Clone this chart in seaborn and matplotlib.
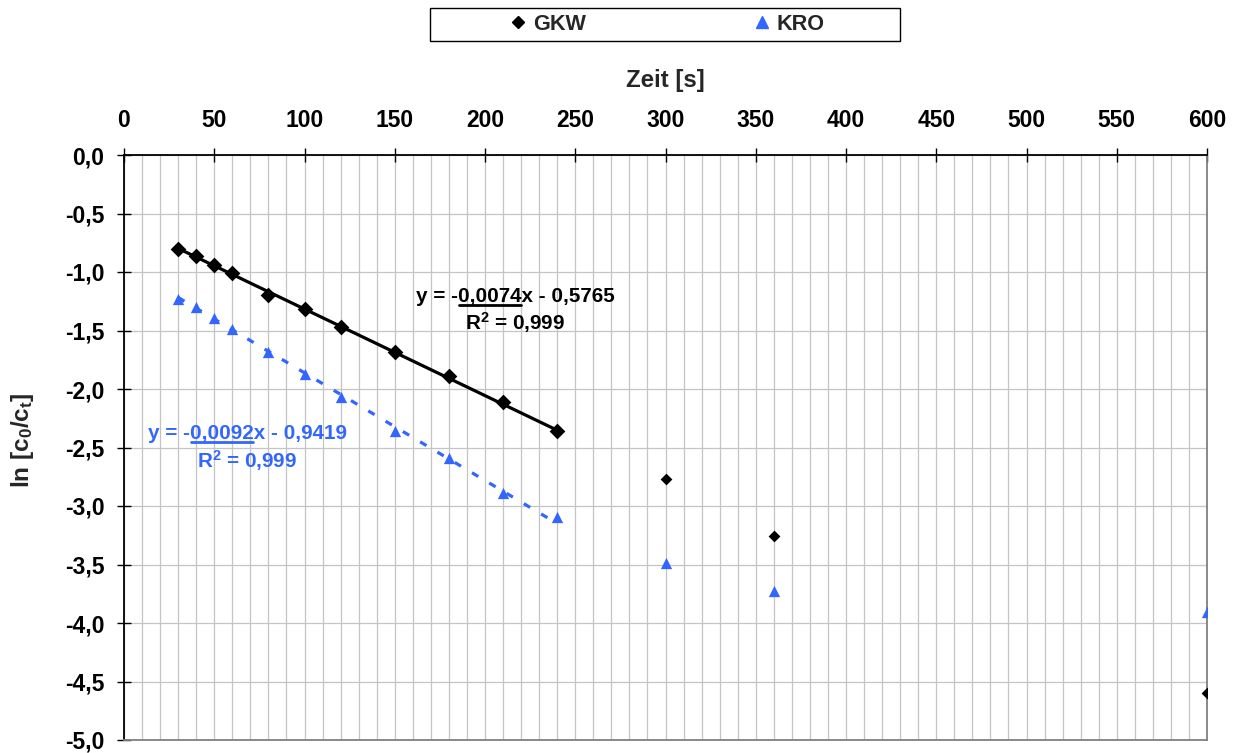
import numpy as np
import pandas as pd
import matplotlib
matplotlib.use("Agg")
import matplotlib.pyplot as plt
import seaborn as sns
from matplotlib.patches import Rectangle
from matplotlib.lines import Line2D
from matplotlib.ticker import FuncFormatter, MultipleLocator

# ---------------- data ----------------
time_s = [30, 40, 50, 60, 80, 100, 120, 150, 180, 210, 240, 300, 360, 600]
gkw = [-0.80, -0.86, -0.94, -1.01, -1.20, -1.32, -1.47, -1.68, -1.89, -2.11, -2.36, -2.77, -3.26, -4.60]
kro = [-1.23, -1.30, -1.39, -1.49, -1.68, -1.87, -2.07, -2.36, -2.59, -2.89, -3.09, -3.49, -3.73, -3.91]
series_names = ["GKW", "KRO"]
fit_start, fit_end = 30, 240
gkw_slope, gkw_intercept = -0.0074, -0.5765
kro_slope, kro_intercept = -0.0092, -0.9419
x_ticks = list(range(0, 601, 50))
y_ticks = [0.0, -0.5, -1.0, -1.5, -2.0, -2.5, -3.0, -3.5, -4.0, -4.5, -5.0]

BLUE = "#3366FF"
W, H = 1235, 753

sns.set_style("white")
plt.rcParams["font.family"] = ["Liberation Sans", "DejaVu Sans"]
plt.rcParams["font.weight"] = "bold"
plt.rcParams["mathtext.fontset"] = "custom"
plt.rcParams["mathtext.rm"] = "Liberation Sans:bold"
plt.rcParams["mathtext.bf"] = "Liberation Sans:bold"
plt.rcParams["mathtext.it"] = "Liberation Sans:bold"
plt.rcParams["mathtext.default"] = "bf"

df = pd.DataFrame({
    "Zeit": time_s * 2,
    "lnc": gkw + kro,
    "Serie": [series_names[0]] * len(time_s) + [series_names[1]] * len(time_s),
})
df["fit"] = (df["Zeit"] >= fit_start) & (df["Zeit"] <= fit_end)

fig = plt.figure(figsize=(W / 100, H / 100), dpi=100)
ax = fig.add_axes([124 / W, 13 / H, 1083 / W, 585 / H])

# trend lines
xf = np.array([fit_start, fit_end], dtype=float)
sns.lineplot(x=xf, y=gkw_slope * xf + gkw_intercept, color="black", lw=2.3, ax=ax, zorder=2)
sns.lineplot(x=xf, y=kro_slope * xf + kro_intercept, color=BLUE, lw=2.3, ax=ax, zorder=2)
ax.lines[-1].set_linestyle((0, (2.3, 4.0)))
ax.lines[-1].set_dash_capstyle("butt")

# markers
g = df[df["Serie"] == "GKW"]
k = df[df["Serie"] == "KRO"]
sns.scatterplot(data=g[g["fit"]], x="Zeit", y="lnc", marker="D", s=64, color="black",
                edgecolor="black", linewidth=0, ax=ax, zorder=3, legend=False)
sns.scatterplot(data=g[~g["fit"]], x="Zeit", y="lnc", marker="D", s=36, color="black",
                edgecolor="black", linewidth=0, ax=ax, zorder=3, legend=False)
sns.scatterplot(data=k, x="Zeit", y="lnc", marker="^", s=66, color=BLUE,
                edgecolor=BLUE, linewidth=0, ax=ax, zorder=3, legend=False)

# axes
ax.set_xlim(0, 600)
ax.set_ylim(-5, 0)
ax.xaxis.tick_top()
ax.xaxis.set_label_position("top")
ax.set_xticks(x_ticks)
ax.xaxis.set_minor_locator(MultipleLocator(10))
ax.set_yticks(y_ticks)
ax.yaxis.set_major_formatter(FuncFormatter(lambda v, p: f"{v:.1f}".replace(".", ",")))
ax.tick_params(axis="x", which="major", direction="inout", length=10, width=1, pad=11.5, labelsize=16.5, colors="black")
ax.tick_params(axis="x", which="minor", length=0)
ax.tick_params(axis="y", which="major", direction="inout", length=10, width=1, pad=9, labelsize=16.5, colors="black", left=True)
for lab in ax.get_xticklabels() + ax.get_yticklabels():
    lab.set_fontweight("bold")

ax.grid(True, axis="x", which="both", color="#c4c4c4", lw=0.9)
ax.grid(True, axis="y", which="major", color="#c4c4c4", lw=0.9)
ax.set_axisbelow(True)

for side in ["top", "left"]:
    ax.spines[side].set_color("black")
    ax.spines[side].set_linewidth(1.3)
for side in ["right", "bottom"]:
    ax.spines[side].set_color("#808080")
    ax.spines[side].set_linewidth(1.3)

ax.set_xlabel("Zeit [s]", fontsize=17.3, fontweight="bold")
ax.xaxis.set_label_coords(0.5, (740 - 80) / 585)
ax.xaxis.label.set_va("center")
ax.set_ylabel(r"ln [c$_0$/c$_t$]", fontsize=17.5, fontweight="bold")
ax.yaxis.set_label_coords((22 - 124) / 1083, (740 - 440) / 585)
ax.yaxis.label.set_va("center")

# equations with underline
fig.canvas.draw()
renderer = fig.canvas.get_renderer()


def text_width(s, size):
    tt = fig.text(0, 0, s, fontsize=size, fontweight="bold")
    w = tt.get_window_extent(renderer).width
    tt.remove()
    return w


def equation(xc, yc1, yc2, prefix, under, suffix, r2, color, size):
    full = prefix + under + suffix
    t = fig.text(xc / W, 1 - yc1 / H, full, ha="center", va="center", color=color,
                 fontsize=size, fontweight="bold")
    fig.text(xc / W, 1 - yc2 / H, r2, ha="center", va="center", color=color,
             fontsize=size, fontweight="bold")
    bb = t.get_window_extent(renderer)
    x0 = bb.x0 + text_width(prefix, size) + 1
    x1 = bb.x0 + text_width(prefix + under, size)
    yl = bb.y0 + 1.0
    fig.add_artist(Line2D([x0 / W, x1 / W], [yl / H, yl / H], transform=fig.transFigure,
                          color=color, lw=2))


equation(515, 296, 323, "y = -", "0,0074", "x - 0,5765", r"R$^2$ = 0,999", "black", 14.9)
equation(247, 433, 461, "y = -", "0,0092", "x - 0,9419", r"R$^2$ = 0,999", BLUE, 14.9)

# legend
fig.add_artist(Rectangle((430 / W, 1 - 41 / H), 470 / W, 33 / H, transform=fig.transFigure,
                         facecolor="white", edgecolor="black", lw=1))
handles = [Line2D([], [], marker="D", color="black", ls="none", markersize=6.5),
           Line2D([], [], marker="^", color=BLUE, ls="none", markersize=8)]
fig.legend(handles, series_names, loc="center", bbox_to_anchor=(666 / W, 1 - 24.5 / H),
           ncol=2, frameon=False, columnspacing=7.6, handletextpad=0.2, handlelength=1.0,
           prop={"size": 15.6, "weight": "bold"})

fig.savefig("out.png", dpi=100)
